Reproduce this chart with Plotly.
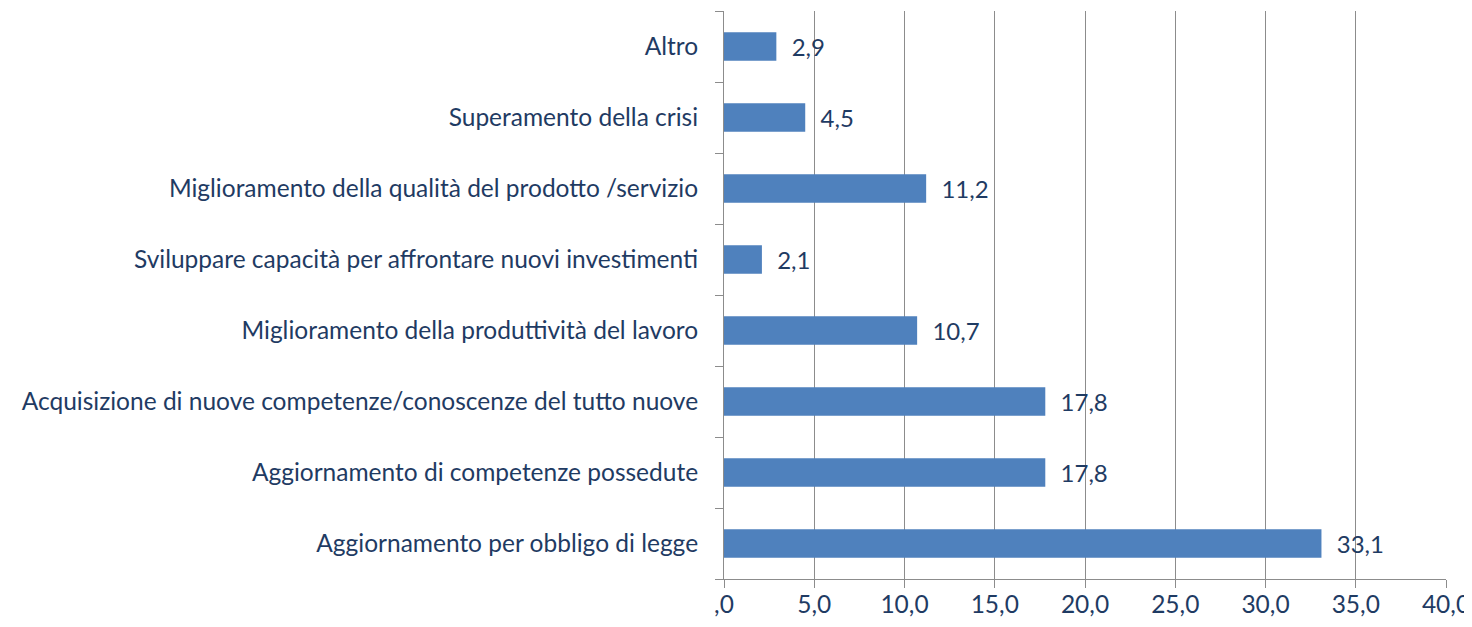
import plotly.graph_objects as go

categories = [
    "Aggiornamento per obbligo di legge",
    "Aggiornamento di competenze possedute",
    "Acquisizione di nuove competenze/conoscenze del tutto nuove",
    "Miglioramento della produttività del lavoro",
    "Sviluppare capacità per affrontare nuovi investimenti",
    "Miglioramento della qualità del prodotto /servizio",
    "Superamento della crisi",
    "Altro",
]
values = [33.1, 17.8, 17.8, 10.7, 2.1, 11.2, 4.5, 2.9]

tick_vals = [0, 5, 10, 15, 20, 25, 30, 35, 40]
tick_text = [",0", "5,0", "10,0", "15,0", "20,0", "25,0", "30,0", "35,0", "40,0"]

text_color = "#1F3B63"
grid_color = "#8C8C8C"
font_size = 24.5

fig = go.Figure(
    go.Bar(
        x=values,
        y=categories,
        orientation="h",
        marker=dict(color="#4F81BD", line=dict(width=0)),
        width=0.4,
        text=["  " + f"{v:.1f}".replace(".", ",") for v in values],
        textposition="outside",
        cliponaxis=False,
        textfont=dict(size=font_size, color=text_color, family="Lato"),
    )
)

# page body has an 8px margin, so the figure is sized to fit inside the window
fig.update_layout(
    width=1464,
    height=611,
    margin=dict(l=716, r=26, t=3, b=40),
    plot_bgcolor="white",
    paper_bgcolor="white",
    showlegend=False,
    font=dict(family="Lato", size=font_size, color=text_color),
    xaxis=dict(
        range=[0, 40],
        tickvals=tick_vals,
        ticktext=tick_text,
        showgrid=True,
        gridcolor=grid_color,
        gridwidth=1,
        showline=True,
        linecolor=grid_color,
        linewidth=1,
        ticks="outside",
        ticklen=8,
        tickcolor=grid_color,
        zeroline=False,
        automargin=False,
        ticklabelstandoff=-4,
        tickfont=dict(size=font_size, color=text_color),
    ),
    yaxis=dict(
        categoryorder="array",
        categoryarray=categories,
        showline=True,
        linecolor=grid_color,
        linewidth=1,
        ticks="outside",
        tickson="boundaries",
        ticklen=8,
        tickcolor=grid_color,
        showgrid=False,
        automargin=False,
        ticklabelstandoff=20,
        tickfont=dict(size=font_size, color=text_color),
    ),
)

fig.write_html("out.html")
